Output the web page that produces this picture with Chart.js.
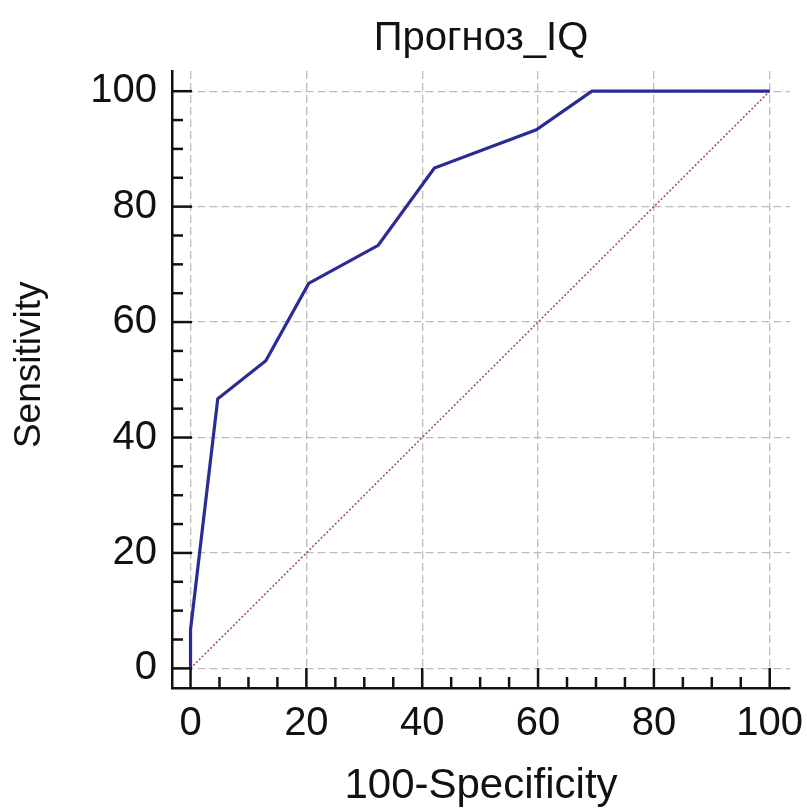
<!DOCTYPE html>
<html>
<head>
<meta charset="utf-8">
<script src="https://cdn.jsdelivr.net/npm/chart.js@4.4.1/dist/chart.umd.min.js"></script>
<style>
  html, body { margin: 0; padding: 0; background: #ffffff; }
  #wrap { width: 807px; height: 808px; }
</style>
</head>
<body>
<div id="wrap"><canvas id="c" width="807" height="808"></canvas></div>
<script>
// ---- data ----
const chartTitle = "Прогноз_IQ";
const xAxisTitle = "100-Specificity";
const yAxisTitle = "Sensitivity";
const rocX = [0, 0, 4.7, 13.0, 20.4, 32.4, 42.1, 59.7, 69.3, 100];
const rocY = [0, 6.7, 46.7, 53.3, 66.7, 73.3, 86.7, 93.3, 100, 100];
const diagX = [0, 100];
const diagY = [0, 100];
const majorTicks = [0, 20, 40, 60, 80, 100];
const minorTicks = [5, 10, 15, 25, 30, 35, 45, 50, 55, 65, 70, 75, 85, 90, 95];

const FONT = "'Liberation Sans', Arial, sans-serif";
const toPts = (xs, ys) => xs.map((x, i) => ({ x: x, y: ys[i] }));

const innerTicks = {
  id: 'innerTicks',
  afterDraw(chart) {
    const ctx = chart.ctx;
    const xs = chart.scales.x, ys = chart.scales.y;
    const a = chart.chartArea;
    ctx.save();
    ctx.strokeStyle = '#111111';
    ctx.lineWidth = 2.5;
    const draw = (vals, len) => {
      vals.forEach(v => {
        const py = ys.getPixelForValue(v);
        ctx.beginPath(); ctx.moveTo(a.left, py); ctx.lineTo(a.left + len, py); ctx.stroke();
        const px = xs.getPixelForValue(v);
        ctx.beginPath(); ctx.moveTo(px, a.bottom); ctx.lineTo(px, a.bottom - len); ctx.stroke();
      });
    };
    draw(majorTicks, 20);
    draw(minorTicks, 11);
    // y axis title (placed at the centre of the plotted 0..100 range)
    const cy = (ys.getPixelForValue(0) + ys.getPixelForValue(100)) / 2 - 15;
    ctx.translate(30, cy);
    ctx.rotate(-Math.PI / 2);
    ctx.fillStyle = '#111111';
    ctx.font = "37px " + FONT;
    ctx.textAlign = 'center';
    ctx.textBaseline = 'middle';
    ctx.fillText(yAxisTitle, 0, 0);
    ctx.restore();
  }
};

new Chart(document.getElementById('c'), {
  type: 'scatter',
  data: {
    datasets: [
      {
        data: toPts(rocX, rocY),
        showLine: true,
        borderColor: '#2b2b96',
        borderWidth: 3.2,
        pointRadius: 0,
        tension: 0
      },
      {
        data: toPts(diagX, diagY),
        showLine: true,
        borderColor: '#a04858',
        borderWidth: 1.5,
        borderDash: [2, 2],
        pointRadius: 0
      }
    ]
  },
  options: {
    responsive: false,
    animation: false,
    layout: { padding: { left: 0, right: 17, top: 0, bottom: 0 } },
    plugins: {
      legend: { display: false },
      tooltip: { enabled: false },
      title: {
        display: true,
        fullSize: false,
        text: chartTitle,
        color: '#111111',
        font: { family: FONT, size: 40, weight: 'normal', lineHeight: 1.2 },
        padding: { top: 15, bottom: 8 }
      }
    },
    scales: {
      x: {
        type: 'linear',
        min: -3.2,
        max: 103.5,
        afterFit(s) { s.height = 120; s.paddingLeft = 0; s.paddingRight = 0; },
        afterBuildTicks(s) { s.ticks = majorTicks.map(v => ({ value: v })); },
        grid: { color: '#bdbdbd', lineWidth: 1.3, drawTicks: false },
        border: { display: true, color: '#111111', width: 2.5, dash: [8, 4] },
        ticks: {
          color: '#111111',
          padding: 12,
          font: { family: FONT, size: 40 },
          callback: v => String(v)
        },
        title: {
          display: true,
          text: xAxisTitle,
          color: '#111111',
          font: { family: FONT, size: 42, lineHeight: 1.0 },
          padding: { top: 0, bottom: 1 }
        }
      },
      y: {
        type: 'linear',
        min: -3.4,
        max: 103.5,
        afterFit(s) { s.width = 172; s.paddingTop = 0; s.paddingBottom = 0; },
        afterBuildTicks(s) { s.ticks = majorTicks.map(v => ({ value: v })); },
        grid: { color: '#bdbdbd', lineWidth: 1.3, drawTicks: false },
        border: { display: true, color: '#111111', width: 2.5, dash: [8, 4] },
        ticks: {
          color: '#111111',
          padding: 15,
          font: { family: FONT, size: 40 },
          callback: v => String(v)
        },
        title: { display: false }
      }
    }
  },
  plugins: [innerTicks]
});
</script>
</body>
</html>
